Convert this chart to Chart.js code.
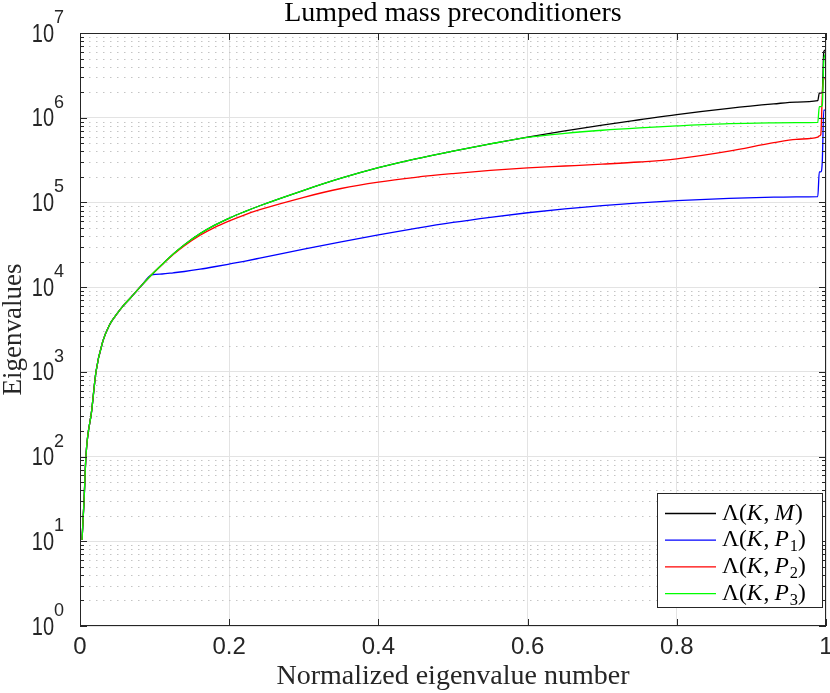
<!DOCTYPE html>
<html>
<head>
<meta charset="utf-8">
<script src="https://cdn.jsdelivr.net/npm/chart.js@4.4.0/dist/chart.umd.min.js"></script>
<style>
  html, body { margin: 0; padding: 0; background: #fff; }
  #wrap { width: 830px; height: 693px; }
</style>
</head>
<body>
<div id="wrap"><canvas id="eig"></canvas></div>
<script>
// normalized eigenvalue number, shared by the four curves
const xValues = [0.0027, 0.0054, 0.008, 0.0157, 0.0214, 0.031, 0.039, 0.047, 0.057, 0.067, 0.0826, 0.096,
  0.11, 0.125, 0.14, 0.161, 0.18, 0.201, 0.22, 0.241,
  0.3, 0.35, 0.4, 0.45, 0.5, 0.55, 0.6, 0.65, 0.7, 0.75, 0.8, 0.87, 0.93, 0.96,
  0.989, 0.991, 0.993, 0.995, 0.997, 0.999, 1.0];

// eigenvalues
const lambdaKM = [10.4, 30, 102, 351, 1000, 2350, 3500, 4520, 5900, 7350, 10500, 14000,
  1.85e4, 2.46e4, 3.17e4, 4.28e4, 5.35e4, 6.58e4, 7.74e4, 9.14e4,
  1.39e5, 1.93e5, 2.57e5, 3.27e5, 4.03e5, 4.9e5, 5.9e5, 6.98e5, 8.18e5, 9.46e5, 1.09e6, 1.29e6, 1.455e6, 1.53e6,
  1.59e6, 1.95e6, 1.95e6, 2.0e6, 6.0e6, 6.3e6, 6.5e6];
const lambdaKP1 = [10.4, 30, 102, 351, 1000, 2350, 3500, 4520, 5900, 7350, 10500, 14000,
  1.43e4, 1.476e4, 1.53e4, 1.63e4, 1.74e4, 1.88e4, 2.02e4, 2.2e4,
  2.81e4, 3.43e4, 4.15e4, 4.94e4, 5.8e4, 6.67e4, 7.55e4, 8.4e4, 9.18e4, 9.9e4, 1.05e5, 1.117e5, 1.153e5, 1.164e5,
  1.17e5, 2.3e5, 2.3e5, 3.0e5, 1.23e6, 1.23e6, 1.25e6];
const lambdaKP2 = [10.4, 30, 102, 351, 1000, 2350, 3500, 4520, 5900, 7350, 10500, 14000,
  1.84e4, 2.42e4, 3.08e4, 4.1e4, 5.05e4, 6.1e4, 7.1e4, 8.2e4,
  1.15e5, 1.46e5, 1.74e5, 1.98e5, 2.19e5, 2.39e5, 2.56e5, 2.69e5, 2.83e5, 3.0e5, 3.27e5, 4.03e5, 5.07e5, 5.56e5,
  5.9e5, 6.1e5, 6.3e5, 1.8e6, 2.9e6, 3.0e6, 3.0e6];
const lambdaKP3 = [10.4, 30, 102, 351, 1000, 2350, 3500, 4520, 5900, 7350, 10500, 14000,
  1.85e4, 2.46e4, 3.17e4, 4.28e4, 5.35e4, 6.58e4, 7.74e4, 9.14e4,
  1.39e5, 1.93e5, 2.57e5, 3.27e5, 4.03e5, 4.9e5, 5.85e5, 6.53e5, 7.11e5, 7.59e5, 8.0e5, 8.5e5, 8.7e5, 8.75e5,
  8.8e5, 1.35e6, 1.35e6, 1.4e6, 4.6e6, 5.6e6, 6.0e6];

const seriesLabels = ['Λ(K,M)', 'Λ(K,P_1)', 'Λ(K,P_2)', 'Λ(K,P_3)'];
const xTicks = [0, 0.2, 0.4, 0.6, 0.8, 1];
const yDecades = [1, 10, 100, 1e3, 1e4, 1e5, 1e6, 1e7];

const SERIF = '"Liberation Serif", "DejaVu Serif", serif';
const SANS = '"Liberation Sans", Arial, sans-serif';

function toPoints(ys) {
  return xValues.map((x, i) => ({ x: x, y: ys[i] }));
}

// draws "Λ(K,P_1)" with italic capitals and a subscript
function drawMath(ctx, str, x, y, size) {
  let cx = x;
  for (let i = 0; i < str.length; i++) {
    let ch = str[i];
    let sub = false;
    if (ch === '_') { ch = str[++i]; sub = true; }
    const italic = /[A-Z]/.test(ch);
    const fs = sub ? size * 0.7 : size;
    ctx.font = (italic ? 'italic ' : '') + fs + 'px ' + SERIF;
    ctx.fillText(ch, cx, y + (sub ? size * 0.28 : 0));
    cx += ctx.measureText(ch).width;
    if (italic) cx += size * 0.04;
    if (ch === ',') cx += size * 0.22;
  }
}

// minor dotted grid, box with inward ticks, 10^k labels, legend
const matlabLook = {
  id: 'matlabLook',
  beforeDatasetsDraw(chart) {
    const { ctx, chartArea: ca, scales } = chart;
    ctx.save();
    ctx.strokeStyle = '#c4c4c4';
    ctx.lineWidth = 1;
    ctx.setLineDash([1.5, 5.5]);
    for (let k = 0; k < 7; k++) {
      for (let m = 2; m <= 9; m++) {
        const y = Math.round(scales.y.getPixelForValue(m * Math.pow(10, k))) + 0.5;
        ctx.beginPath();
        ctx.moveTo(ca.left + 2, y);
        ctx.lineTo(ca.right, y);
        ctx.stroke();
      }
    }
    ctx.restore();
  },
  afterDraw(chart) {
    const { ctx, chartArea: ca, scales } = chart;
    ctx.save();
    ctx.strokeStyle = '#262626';
    ctx.lineWidth = 1;
    ctx.strokeRect(ca.left + 0.5, ca.top + 0.5, ca.right - ca.left - 1, ca.bottom - ca.top - 1);
    ctx.beginPath();
    xTicks.forEach(v => {
      const x = Math.round(scales.x.getPixelForValue(v)) + 0.5;
      ctx.moveTo(x, ca.bottom); ctx.lineTo(x, ca.bottom - 7);
      ctx.moveTo(x, ca.top); ctx.lineTo(x, ca.top + 7);
    });
    for (let k = 0; k < 7; k++) {
      for (let m = 1; m <= 9; m++) {
        const len = m === 1 ? 7 : 4;
        const y = Math.round(scales.y.getPixelForValue(m * Math.pow(10, k))) + 0.5;
        ctx.moveTo(ca.left, y); ctx.lineTo(ca.left + len, y);
        ctx.moveTo(ca.right, y); ctx.lineTo(ca.right - len, y);
      }
    }
    ctx.stroke();

    // y tick labels as 10 with a raised exponent
    ctx.fillStyle = '#262626';
    ctx.textBaseline = 'alphabetic';
    yDecades.forEach(v => {
      const y = scales.y.getPixelForValue(v);
      const ex = String(Math.round(Math.log10(v)));
      ctx.save();
      ctx.translate(ca.left - 26, y + 8.5);
      ctx.scale(0.8, 1);
      ctx.textAlign = 'right';
      ctx.font = '25px ' + SANS;
      ctx.fillText('10', 0, 0);
      ctx.restore();
      ctx.textAlign = 'left';
      ctx.font = '18px ' + SANS;
      ctx.fillText(ex, ca.left - 26, y - 10);
    });

    // legend box
    const bx = ca.right - 169, by = ca.bottom - 133, bw = 165, bh = 114;
    ctx.fillStyle = '#fff';
    ctx.fillRect(bx, by, bw, bh);
    ctx.strokeRect(bx + 0.5, by + 0.5, bw, bh);
    ctx.textBaseline = 'middle';
    ctx.textAlign = 'left';
    chart.data.datasets.forEach((ds, i) => {
      const ry = by + 20.5 + i * 26.7;
      ctx.strokeStyle = ds.borderColor;
      ctx.lineWidth = 1.3;
      ctx.beginPath();
      ctx.moveTo(bx + 8, ry); ctx.lineTo(bx + 59, ry);
      ctx.stroke();
      ctx.fillStyle = '#000';
      drawMath(ctx, seriesLabels[i], bx + 65, ry, 23.5);
    });
    ctx.restore();
  }
};

const lineStyle = { borderWidth: 1.3, pointRadius: 0, cubicInterpolationMode: 'monotone', fill: false };

new Chart(document.getElementById('eig'), {
  type: 'line',
  data: {
    datasets: [
      Object.assign({ label: seriesLabels[0], data: toPoints(lambdaKM), borderColor: '#000000', order: 3 }, lineStyle),
      Object.assign({ label: seriesLabels[1], data: toPoints(lambdaKP1), borderColor: '#0000ff', order: 2 }, lineStyle),
      Object.assign({ label: seriesLabels[2], data: toPoints(lambdaKP2), borderColor: '#ff0000', order: 1 }, lineStyle),
      Object.assign({ label: seriesLabels[3], data: toPoints(lambdaKP3), borderColor: '#00ff00', order: 0 }, lineStyle),
    ]
  },
  options: {
    responsive: true,
    maintainAspectRatio: false,
    animation: false,
    layout: { padding: { left: 0, right: 4, top: 0, bottom: 0 } },
    plugins: {
      legend: { display: false },
      tooltip: { enabled: false },
      title: {
        display: true,
        text: 'Lumped mass preconditioners',
        fullSize: false,
        color: '#000',
        font: { family: SERIF, size: 28, weight: 'normal', lineHeight: 1.0 },
        padding: { top: 0, bottom: 5 }
      }
    },
    scales: {
      x: {
        type: 'linear',
        min: 0,
        max: 1,
        afterBuildTicks: scale => { scale.ticks = xTicks.map(v => ({ value: v })); },
        afterFit: scale => { scale.height = 67; scale.paddingLeft = 0; scale.paddingRight = 0; },
        grid: { color: '#e3e3e3', lineWidth: 1, drawTicks: false },
        border: { display: false },
        ticks: {
          padding: 7,
          color: '#262626',
          maxRotation: 0,
          font: { family: SANS, size: 24 },
          callback: v => String(Math.round(v * 10) / 10)
        },
        title: {
          display: true,
          text: 'Normalized eigenvalue number',
          color: '#262626',
          font: { family: SERIF, size: 28, lineHeight: 1.0 },
          padding: { top: 0, bottom: 2 }
        }
      },
      y: {
        type: 'logarithmic',
        min: 1,
        max: 1e7,
        afterBuildTicks: scale => { scale.ticks = yDecades.map(v => ({ value: v })); },
        afterFit: scale => { scale.width = 80; scale.paddingTop = 0; scale.paddingBottom = 0; },
        grid: { color: '#e3e3e3', lineWidth: 1, drawTicks: false },
        border: { display: false },
        ticks: { display: false },
        title: {
          display: true,
          text: 'Eigenvalues',
          color: '#262626',
          font: { family: SERIF, size: 27, lineHeight: 1.0 },
          padding: { top: 0, bottom: 0 }
        }
      }
    }
  },
  plugins: [matlabLook]
});
</script>
</body>
</html>
